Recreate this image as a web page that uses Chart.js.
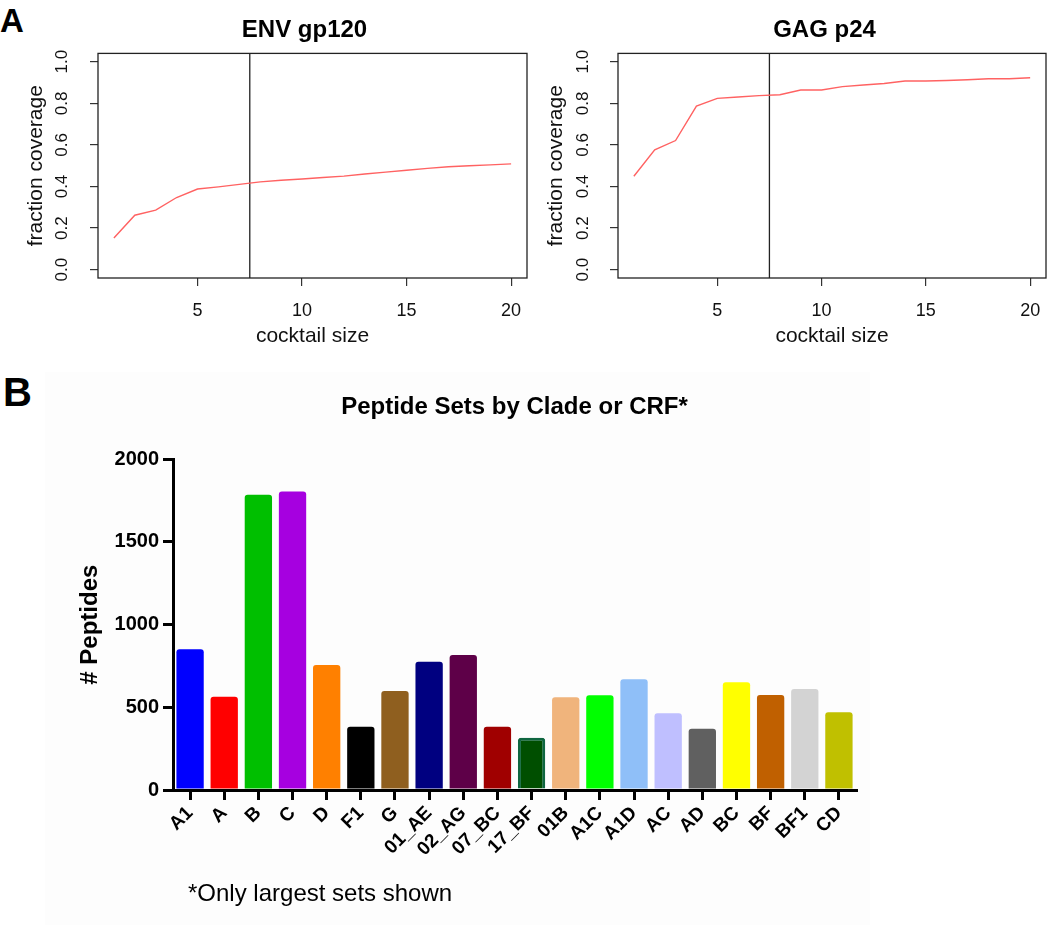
<!DOCTYPE html>
<html><head><meta charset="utf-8">
<script src="https://cdn.jsdelivr.net/npm/chart.js@4.4.1/dist/chart.umd.min.js"></script>
<style>
html,body{margin:0;padding:0;background:#fff;width:1050px;height:925px;overflow:hidden;position:relative;font-family:"Liberation Sans",Arial,sans-serif;}
canvas{position:absolute;}
.lbl{position:absolute;font-weight:bold;color:#000;line-height:1;}
</style></head><body>
<div style="position:absolute;left:45px;top:372px;width:825px;height:553px;background:#fdfdfd"></div>
<div class="lbl" style="left:0px;top:4px;font-size:33px">A</div>
<div class="lbl" style="left:3px;top:372px;font-size:40px">B</div>
<canvas id="c1" width="609" height="360" style="left:0;top:0"></canvas>
<canvas id="c2" width="569" height="360" style="left:540px;top:0"></canvas>
<canvas id="c3" width="1050" height="555" style="left:0;top:370px"></canvas>
<div style="position:absolute;left:188px;top:881px;font-size:24px;line-height:1;color:#000">*Only largest sets shown</div>
<script>
// ---- Panel A data ----
const cocktailSizes = [1,2,3,4,5,6,7,8,9,10,11,12,13,14,15,16,17,18,19,20];
const envCoverage = [0.152,0.262,0.286,0.347,0.388,0.398,0.410,0.422,0.430,0.436,0.443,0.450,0.460,0.469,0.478,0.487,0.495,0.500,0.504,0.509];
const gagCoverage = [0.449,0.576,0.621,0.787,0.824,0.830,0.837,0.841,0.864,0.864,0.880,0.888,0.895,0.907,0.907,0.910,0.913,0.918,0.918,0.923];
const cocktailCutoff = 7.5;
const xTicksA = [5,10,15,20];
const yTicksA = [0,0.2,0.4,0.6,0.8,1.0];

// ---- Panel B data ----
const cladeLabels = ['A1','A','B','C','D','F1','G','01_AE','02_AG','07_BC','17_BF','01B','A1C','A1D','AC','AD','BC','BF','BF1','CD'];
const peptideCounts = [851,564,1785,1805,756,383,599,776,817,383,316,561,573,670,464,371,651,575,611,470];
const cladeColors = ['#0000ff','#ff0000','#00bf00','#a600e0','#ff8000','#000000','#8f5f1f','#000080','#5e0048','#a00000','#004f00','#f0b47c','#00ff00','#8fbff8','#bfbfff','#606060','#ffff00','#c06000','#d3d3d3','#c0c000'];
const cladeBorderColors = cladeLabels.map(l => l === '17_BF' ? '#0f6640' : 'rgba(0,0,0,0)');
const cladeBorderWidths = cladeLabels.map(l => l === '17_BF' ? 3 : 0);
const yTicksB = [0,500,1000,1500,2000];

const FONT = '"Liberation Sans", Arial, sans-serif';
Chart.defaults.font.family = FONT;
Chart.defaults.color = '#111';

const frame = {
  id: 'frame',
  afterDatasetsDraw(chart) {
    const {ctx, chartArea: a} = chart;
    ctx.save();
    ctx.strokeStyle = '#222';
    ctx.lineWidth = 1.3;
    ctx.strokeRect(a.left, a.top, a.right - a.left, a.bottom - a.top);
    ctx.restore();
  }
};

function coverageChart(id, title, values, yWidth, rightWidth, yTickPad, yTitlePad) {
  return new Chart(document.getElementById(id), {
    type: 'line',
    data: {
      datasets: [
        {
          data: cocktailSizes.map((x, i) => ({x: x, y: values[i]})),
          borderColor: '#ff6262', borderWidth: 1.4, pointRadius: 0, tension: 0
        },
        {
          data: [{x: cocktailCutoff, y: -0.04}, {x: cocktailCutoff, y: 1.04}],
          borderColor: '#222', borderWidth: 1.3, pointRadius: 0
        }
      ]
    },
    options: {
      responsive: false, animation: false, devicePixelRatio: 1,
      layout: {padding: 0},
      plugins: {
        legend: {display: false}, tooltip: {enabled: false},
        title: {display: true, text: title, color: '#000',
          font: {size: 24, weight: 'bold', family: FONT},
          padding: {top: 16, bottom: 8.6}}
      },
      scales: {
        x: {
          type: 'linear', min: 0.24, max: 20.76,
          afterBuildTicks: s => { s.ticks = xTicksA.map(v => ({value: v})); },
          afterFit: s => { s.height = 82; },
          grid: {display: true, drawOnChartArea: false, drawTicks: true, tickLength: 8, color: '#333', lineWidth: 1.2},
          border: {display: false},
          ticks: {font: {size: 18}, color: '#111', padding: 14, maxRotation: 0},
          title: {display: true, text: 'cocktail size', color: '#111', font: {size: 21}, padding: {top: 0, bottom: 11}}
        },
        y: {
          type: 'linear', min: -0.04, max: 1.04,
          afterBuildTicks: s => { s.ticks = yTicksA.map(v => ({value: v})); },
          afterFit: s => { s.width = yWidth; },
          grid: {display: true, drawOnChartArea: false, drawTicks: true, tickLength: 8, color: '#333', lineWidth: 1.2},
          border: {display: false},
          ticks: {font: {size: 17}, color: '#111', padding: yTickPad, minRotation: 90, maxRotation: 90,
            crossAlign: 'center', callback: v => Number(v).toFixed(1)},
          title: {display: true, text: 'fraction coverage', color: '#111', font: {size: 21}, padding: {top: yTitlePad, bottom: 0}}
        },
        yR: {
          type: 'linear', position: 'right', display: true,
          grid: {display: false}, border: {display: false}, ticks: {display: false},
          afterFit: s => { s.width = rightWidth; }
        }
      }
    },
    plugins: [frame]
  });
}

coverageChart('c1', 'ENV gp120', envCoverage, 98, 82, 16, 23.4);
coverageChart('c2', 'GAG p24', gagCoverage, 78, 63, 15, 3.4);

new Chart(document.getElementById('c3'), {
  type: 'bar',
  data: {
    labels: cladeLabels,
    datasets: [{
      data: peptideCounts,
      backgroundColor: cladeColors,
      borderColor: cladeBorderColors,
      borderWidth: cladeBorderWidths,
      borderRadius: {topLeft: 3, topRight: 3, bottomLeft: 0, bottomRight: 0},
      borderSkipped: 'start',
      barPercentage: 0.8, categoryPercentage: 1.0
    }]
  },
  options: {
    responsive: false, animation: false, devicePixelRatio: 1,
    layout: {padding: {left: 0, right: 194, top: 0, bottom: 0}},
    plugins: {
      legend: {display: false}, tooltip: {enabled: false},
      title: {display: true, fullSize: false, text: 'Peptide Sets by Clade or CRF*', color: '#000',
        font: {size: 24, weight: 'bold', family: FONT}, padding: {top: 22.6, bottom: 37.9}}
    },
    scales: {
      x: {
        afterFit: s => { s.height = 135; },
        grid: {display: true, offset: false, drawOnChartArea: false, drawTicks: true, tickLength: 10, lineWidth: 3, color: '#000'},
        border: {display: true, width: 3, color: '#000'},
        ticks: {font: {size: 19, weight: 'bold'}, color: '#000', minRotation: 45, maxRotation: 45, padding: 2, autoSkip: false}
      },
      y: {
        min: 0, max: 2000,
        afterBuildTicks: s => { s.ticks = yTicksB.map(v => ({value: v})); },
        afterFit: s => { s.width = 173; },
        grid: {display: true, drawOnChartArea: false, drawTicks: true, tickLength: 10, lineWidth: 3, color: '#000'},
        border: {display: true, width: 3, color: '#000'},
        ticks: {font: {size: 20, weight: 'bold'}, color: '#000', padding: 4, callback: v => String(v)},
        title: {display: true, text: '# Peptides', color: '#000', font: {size: 24, weight: 'bold'}, padding: {top: 75.6, bottom: 0}}
      }
    }
  }
});
</script>
</body></html>
